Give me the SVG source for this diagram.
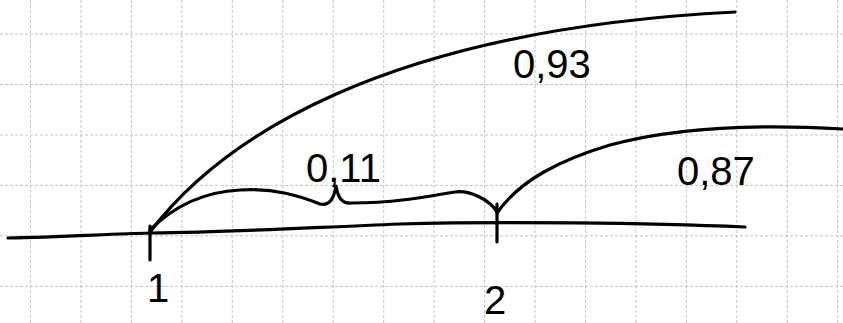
<svg xmlns="http://www.w3.org/2000/svg" width="843" height="323" viewBox="0 0 843 323">
<style>
.grid{stroke:#c4c4c4;stroke-width:1;stroke-dasharray:3 2;fill:none}
.ink{stroke:#000;stroke-width:3.2;fill:none;stroke-linecap:round;stroke-linejoin:round}
.lbl{font-family:"Liberation Sans",Arial,sans-serif;font-size:40px;fill:#000}
</style>
<rect width="843" height="323" fill="#fff"/>
<g id="grid" class="grid">
<path d="M30.5,0V323M81,0V323M131.4,0V323M181.9,0V323M232.3,0V323M282.8,0V323M333.2,0V323M383.7,0V323M434.1,0V323M484.6,0V323M535,0V323M585.5,0V323M635.9,0V323M686.4,0V323M736.8,0V323M787.3,0V323M837.7,0V323"/>
<path d="M0,34H843M0,84.5H843M0,135H843M0,185.4H843M0,235.8H843M0,286.3H843"/>
</g>
<g id="connectors" class="ink">
<path id="baseline" d="M8,238 C60,237 110,234 150,233 C240,232 300,228 400,224 C500,221 650,223 745,227"/>
<path id="arc-093" d="M150,232 C220,140 380,30 735,12"/>
<path id="brace-011" d="M150,230 C170,210 200,192 240,190 C275,188 300,196 320,204 C330,206 334,198 336,186 C338,198 342,204 352,203 C390,203 420,198 455,192 C470,190 490,200 497,212"/>
<path id="arc-087" d="M497,213 C520,180 560,160 610,145 C680,126 760,124 843,129"/>
</g>
<g id="point-1">
<path class="ink" d="M150,226V260"/>
<text class="lbl" x="158" y="302" font-size="28" text-anchor="middle">1</text>
</g>
<g id="point-2">
<path class="ink" d="M497,204V242"/>
<text class="lbl" x="495" y="314" font-size="38" text-anchor="middle">2</text>
</g>
<g id="label-093"><text class="lbl" x="513" y="78">0,93</text></g>
<g id="label-011"><text class="lbl" x="306" y="182" font-size="37">0,11</text></g>
<g id="label-087"><text class="lbl" x="677" y="185" font-size="44">0,87</text></g>
</svg>
